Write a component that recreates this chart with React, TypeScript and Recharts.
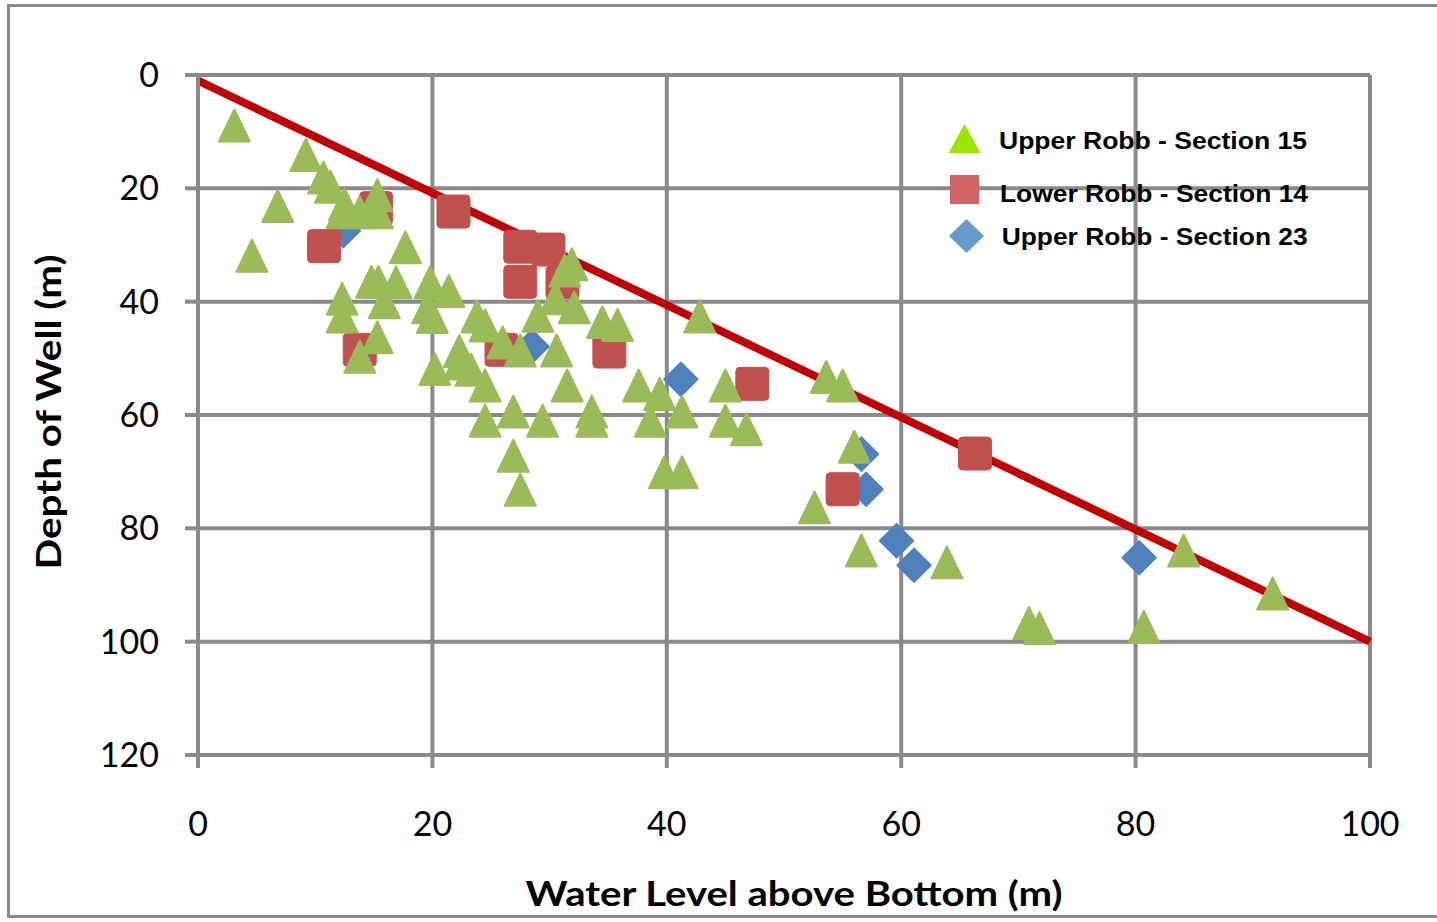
import React from 'react';
import { ScatterChart, Scatter, XAxis, YAxis, CartesianGrid, ReferenceLine, Legend } from 'recharts';

const xTicks = [0, 20, 40, 60, 80, 100];
const yTicks = [0, 20, 40, 60, 80, 100, 120];

const seriesNames = ['Upper Robb - Section 15', 'Lower Robb - Section 14', 'Upper Robb - Section 23'];
const xTitle = 'Water Level above Bottom (m)';
const yTitle = 'Depth of Well (m)';

// Upper Robb - Section 15 (x: water level above bottom, y: depth of well)
const section15: [number, number][] = [
  [3.1, 8.9], [9.2, 14.1], [10.7, 18.1], [11.3, 19.7], [6.8, 23.1], [4.6, 31.9],
  [12.5, 22.8], [12.3, 24.2], [13.8, 24.2], [15.3, 21.2], [15.3, 24.2], [17.7, 30.4],
  [14.8, 36.5], [15.4, 36.5], [16.9, 36.6], [19.8, 36.6], [12.3, 39.5], [12.3, 42.6],
  [15.9, 40.1], [19.6, 41.0], [20.0, 42.7], [15.3, 46.3], [13.8, 49.7], [20.2, 51.9],
  [21.4, 38.1], [31.9, 33.4], [31.3, 34.5], [30.5, 39.4], [32.1, 41.0], [23.8, 42.6],
  [24.5, 44.2], [29.0, 42.5], [34.5, 43.6], [35.8, 44.1], [26.0, 47.2], [27.5, 48.6],
  [30.6, 48.6], [22.3, 48.7], [22.3, 50.9], [23.3, 52.0], [24.5, 54.8], [31.5, 54.8],
  [26.9, 59.4], [24.5, 61.0], [29.4, 61.0], [33.6, 59.4], [33.6, 61.0], [37.6, 54.8],
  [39.4, 56.3], [38.6, 61.0], [41.3, 59.4], [26.9, 67.2], [27.5, 73.2], [39.8, 70.1],
  [41.3, 70.1], [42.8, 42.6], [45.0, 54.8], [53.6, 53.3], [55.0, 54.8], [45.0, 61.0],
  [46.8, 62.5], [56.0, 65.6], [52.6, 76.3], [56.6, 83.9], [63.9, 86.0], [84.1, 83.9],
  [91.7, 91.5], [70.9, 96.7], [71.8, 97.6], [80.7, 97.4],
];

// Lower Robb - Section 14
const section14: [number, number][] = [
  [10.75, 30.2], [15.2, 23.5], [13.8, 48.5], [21.8, 24.1], [27.5, 30.3], [29.9, 30.8],
  [27.5, 36.5], [31.1, 36.6], [35.1, 48.8], [25.9, 48.5], [47.3, 54.5], [55.0, 73.1],
  [66.3, 66.8],
];

// Upper Robb - Section 23
const section23: [number, number][] = [
  [12.4, 27.5], [28.5, 47.9], [41.2, 53.7], [56.6, 66.9], [57.0, 73.1], [59.6, 82.2],
  [61.1, 86.5], [80.3, 85.2],
];

// 1:1 reference line
const trendLine: [number, number][] = [[0, 1], [100, 100]];

const toPoints = (arr: [number, number][]) => arr.map(([x, y]) => ({ x, y }));

const GREEN = '#9BBB59';
const RED = '#C0504D';
const BLUE = '#4F81BD';
const GRID = '#8a8a8a';

const Triangle = (props: any) => {
  const { cx, cy } = props;
  if (cx == null || cy == null) return null;
  const w = 15.5, h = 16;
  return (
    <polygon
      points={`${cx},${cy - h} ${cx + w},${cy + h} ${cx - w},${cy + h}`}
      fill={GREEN}
      stroke={GREEN}
      strokeWidth={2}
      strokeLinejoin="round"
    />
  );
};

const Square = (props: any) => {
  const { cx, cy } = props;
  if (cx == null || cy == null) return null;
  const s = 33;
  return <rect x={cx - s / 2} y={cy - s / 2} width={s} height={s} rx={4} fill={RED} stroke="#c2524f" strokeWidth={1} />;
};

const Diamond = (props: any) => {
  const { cx, cy } = props;
  if (cx == null || cy == null) return null;
  const r = 17;
  return (
    <polygon
      points={`${cx},${cy - r} ${cx + r},${cy} ${cx},${cy + r} ${cx - r},${cy}`}
      fill={BLUE}
      stroke={BLUE}
      strokeWidth={1.5}
      strokeLinejoin="round"
    />
  );
};

const LegendContent = () => {
  const txt = { fontFamily: '"Liberation Sans", Arial, sans-serif', fontWeight: 700, fontSize: 23, fill: '#000' };
  return (
    <svg width={420} height={150} style={{ overflow: 'visible', display: 'block' }}>
      <polygon points="24.5,14 40.5,43 8.5,43" fill="#99E600" />
      <text x={59} y={39.3} textLength={308} lengthAdjust="spacingAndGlyphs" {...txt}>{seriesNames[0]}</text>
      <rect x={10} y={65} width={29} height={29} fill="#CF6565" />
      <text x={60} y={91.7} textLength={308} lengthAdjust="spacingAndGlyphs" {...txt}>{seriesNames[1]}</text>
      <polygon points="26.5,109 44,126 26.5,143 9,126" fill="#6699CC" />
      <text x={61.7} y={135} textLength={306} lengthAdjust="spacingAndGlyphs" {...txt}>{seriesNames[2]}</text>
    </svg>
  );
};

const YTitle = (props: any) => {
  const vb = props.viewBox || {};
  const cy = (vb.y ?? 75) + (vb.height ?? 680) / 2 - 3;
  const cx = 47;
  return (
    <text
      x={cx}
      y={cy}
      transform={`rotate(-90 ${cx} ${cy})`}
      textAnchor="middle"
      dominantBaseline="central"
      textLength={315}
      lengthAdjust="spacingAndGlyphs"
      style={{ fontFamily: 'Lato, sans-serif', fontWeight: 700, fontSize: 35, fill: '#000' }}
    >
      {yTitle}
    </text>
  );
};

const XTitle = (props: any) => {
  const vb = props.viewBox || {};
  const cx = (vb.x ?? 198) + (vb.width ?? 1172) / 2 + 10;
  const y = 906;
  return (
    <text
      x={cx}
      y={y}
      textAnchor="middle"
      textLength={537}
      lengthAdjust="spacingAndGlyphs"
      style={{ fontFamily: 'Lato, sans-serif', fontWeight: 700, fontSize: 35, fill: '#000' }}
    >
      {xTitle}
    </text>
  );
};

export default function App() {
  const tickStyle = { fill: '#000', fontSize: 34, fontFamily: 'Lato, sans-serif' };
  return (
    <div style={{ position: 'absolute', left: 0, top: 0, width: 1437, height: 922, background: '#fff', overflow: 'hidden' }}>
      <div
        style={{
          position: 'absolute',
          left: 7,
          top: 4,
          width: 1450,
          height: 914,
          border: `3px solid ${GRID}`,
          boxSizing: 'border-box',
        }}
      />
      <div style={{ position: 'absolute', left: 0, top: 0 }}>
        <ScatterChart width={1437} height={922} margin={{ top: 75, right: 67, bottom: 107, left: 118 }}>
          <CartesianGrid stroke={GRID} strokeWidth={4} />
          <XAxis
            type="number"
            dataKey="x"
            domain={[0, 100]}
            ticks={xTicks}
            interval={0}
            height={60}
            axisLine={{ stroke: GRID, strokeWidth: 4 }}
            tickLine={{ stroke: GRID, strokeWidth: 4 }}
            tickSize={13}
            tickMargin={44}
            tick={tickStyle}
            label={<XTitle />}
          />
          <YAxis
            type="number"
            dataKey="y"
            domain={[0, 120]}
            ticks={yTicks}
            interval={0}
            reversed
            width={80}
            axisLine={{ stroke: GRID, strokeWidth: 4 }}
            tickLine={{ stroke: GRID, strokeWidth: 4 }}
            tickSize={13}
            tickMargin={26}
            tick={tickStyle}
            label={<YTitle />}
          />
          <Scatter name={seriesNames[2]} data={toPoints(section23)} shape={<Diamond />} isAnimationActive={false} />
          <Scatter name={seriesNames[1]} data={toPoints(section14)} shape={<Square />} isAnimationActive={false} />
          <Scatter name={seriesNames[0]} data={toPoints(section15)} shape={<Triangle />} isAnimationActive={false} />
          <ReferenceLine
            segment={trendLine.map(([x, y]) => ({ x, y }))}
            stroke="#C00000"
            strokeWidth={8}
            ifOverflow="visible"
          />
          <Legend
            layout="vertical"
            verticalAlign="middle"
            align="center"
            content={<LegendContent />}
            wrapperStyle={{ position: 'absolute', left: 940, top: 110, width: 420, height: 150 }}
          />
        </ScatterChart>
      </div>
    </div>
  );
}
